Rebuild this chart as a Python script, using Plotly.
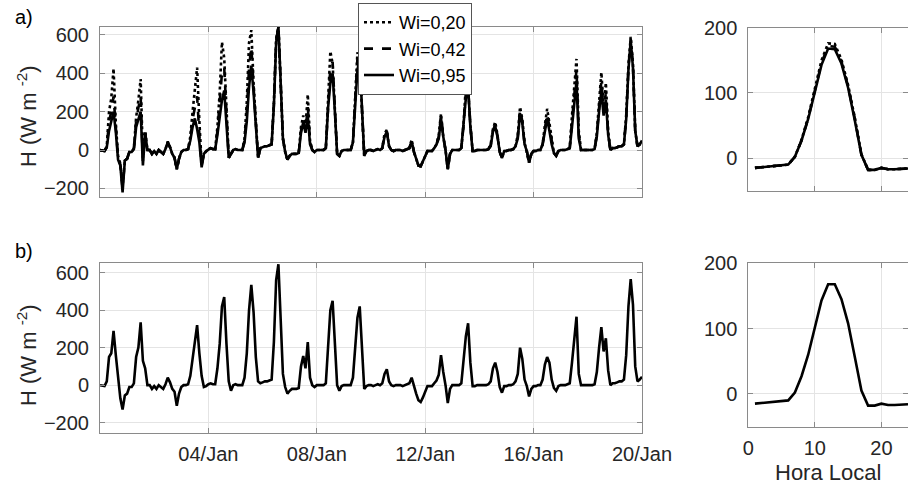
import pandas as pd
import plotly.graph_objects as go

# ---------------- data (2-hourly samples, 00h..22h per day, 31/Dec .. 19/Jan, plus final point) ----
h_wi020 = [
    0, -3, -5, 20, 200, 270, 425, 140, -30, -70, -190, -55,
    -45, -10, -10, 10, 170, 260, 370, -40, 100, 0, 0, -20,
    -5, -20, 0, -10, -20, 5, 45, 15, -20, -40, -100, -45,
    -10, 0, 0, 5, 70, 200, 330, 430, 150, -70, -20, -5,
    5, 10, 5, 5, 120, 300, 563, 480, 200, -40, -20, 0,
    5, 0, 0, 0, 60, 250, 560, 625, 350, 120, -40, 10,
    15, 20, 20, 25, 30, 250, 580, 648, 320, 60, -10, -50,
    -30, -20, -20, -20, -15, 120, 180, 120, 290, 50, 0, -10,
    0, 0, 0, 0, 10, 260, 515, 450, 230, -20, -30, -5,
    0, 0, 0, 0, 40, 250, 510, 450, 220, -30, -5, 0,
    0, -5, 0, 5, 0, 10, 85, 105, 20, 0, -5, 0,
    0, 0, -5, 0, 5, 10, 55, -10, -45, -80, -85, -60,
    -30, -5, -5, -5, 10, 30, 80, 190, 70, 0, -100, -20,
    0, 0, 0, 0, 10, 140, 333, 320, 130, -5, -5, 0,
    0, 0, 0, 0, 5, 30, 110, 147, 80, -10, -40, -5,
    -5, 0, 0, 5, 20, 80, 225, 160, 40, -5, -65, -20,
    -5, -5, 0, 0, 30, 130, 215, 140, 60, -15, -30, -5,
    0, 0, 0, 5, 10, 180, 350, 475, 100, 0, 0, 0,
    0, 0, 0, 5, 90, 250, 405, 220, 350, 100, 0, 10,
    10, 15, 20, 20, 30, 180, 440, 590, 450, 100, 20, 30,
    50]

h_wi042 = [
    0, -3, -5, 15, 150, 200, 280, 120, -40, -75, -200, -55,
    -45, -10, -10, 5, 150, 220, 280, -60, 90, 0, 0, -20,
    -5, -20, 0, -10, -20, 5, 40, 15, -20, -40, -100, -45,
    -10, 0, 0, 5, 60, 160, 230, 280, 80, -80, -20, -5,
    5, 10, 5, 5, 100, 250, 400, 430, 180, -40, -20, 0,
    5, 0, 0, 0, 50, 200, 430, 540, 330, 110, -40, 10,
    15, 20, 20, 25, 30, 240, 570, 645, 310, 60, -10, -50,
    -30, -20, -20, -20, -15, 100, 160, 100, 230, 40, 0, -10,
    0, 0, 0, 0, 10, 240, 430, 460, 220, -20, -30, -5,
    0, 0, 0, 0, 40, 230, 480, 460, 210, -30, -5, 0,
    0, -5, 0, 5, 0, 10, 80, 100, 20, 0, -5, 0,
    0, 0, -5, 0, 5, 10, 50, -10, -45, -80, -85, -60,
    -30, -5, -5, -5, 10, 30, 70, 180, 70, 0, -100, -20,
    0, 0, 0, 0, 10, 130, 300, 330, 130, -5, -5, 0,
    0, 0, 0, 0, 5, 25, 100, 135, 75, -10, -40, -5,
    -5, 0, 0, 5, 20, 70, 210, 150, 30, -5, -65, -20,
    -5, -5, 0, 0, 30, 120, 190, 120, 50, -15, -30, -5,
    0, 0, 0, 5, 10, 150, 300, 420, 80, 0, 0, 0,
    0, 0, 0, 5, 80, 220, 360, 200, 300, 90, 0, 10,
    10, 15, 20, 20, 30, 170, 430, 580, 440, 100, 20, 30,
    50]

h_wi095 = [
    0, -3, -5, 15, 100, 150, 200, 95, -50, -80, -220, -55,
    -45, -10, -10, 5, 120, 160, 200, -80, 90, 0, 0, -20,
    -5, -20, 0, -10, -20, 5, 40, 15, -20, -40, -100, -45,
    -10, 0, 0, 5, 50, 120, 165, 110, 40, -90, -20, -5,
    5, 10, 5, 5, 80, 180, 260, 310, 150, -40, -20, 0,
    5, 0, 0, 0, 40, 150, 330, 440, 300, 100, -40, 10,
    15, 20, 20, 25, 30, 230, 560, 645, 300, 60, -10, -50,
    -30, -20, -20, -20, -15, 90, 145, 90, 180, 30, 0, -10,
    0, 0, 0, 0, 10, 220, 350, 400, 200, -20, -30, -5,
    0, 0, 0, 0, 40, 220, 420, 470, 200, -30, -5, 0,
    0, -5, 0, 5, 0, 10, 70, 95, 20, 0, -5, 0,
    0, 0, -5, 0, 5, 10, 45, -10, -45, -80, -85, -60,
    -30, -5, -5, -5, 10, 30, 60, 165, 70, 0, -100, -20,
    0, 0, 0, 0, 10, 130, 270, 330, 120, -5, -5, 0,
    0, 0, 0, 0, 5, 20, 95, 125, 70, -10, -40, -5,
    -5, 0, 0, 5, 20, 60, 190, 140, 30, -5, -65, -20,
    -5, -5, 0, 0, 30, 110, 165, 100, 30, -15, -30, -5,
    0, 0, 0, 5, 10, 120, 250, 360, 60, 0, 0, 0,
    0, 0, 0, 5, 70, 200, 310, 180, 260, 80, 0, 10,
    10, 15, 20, 20, 30, 160, 420, 570, 430, 100, 20, 30,
    50]

h_b = [
    0, -3, -5, 20, 150, 170, 290, 160, 30, -70, -130, -55,
    -45, -10, -10, 10, 150, 200, 335, 130, 90, 0, 0, -20,
    -5, -20, 0, -10, -20, 5, 40, 15, -20, -35, -110, -45,
    -10, 0, 0, 5, 50, 140, 225, 320, 170, 50, -10, -5,
    5, 10, 5, 5, 90, 220, 420, 470, 220, 20, -30, 0,
    5, 0, 0, 0, 40, 170, 400, 535, 390, 150, 20, 10,
    15, 20, 20, 25, 30, 230, 560, 645, 300, 60, -10, -45,
    -30, -20, -20, -20, -15, 100, 155, 90, 230, 40, 0, -10,
    0, 0, 0, 0, 10, 240, 400, 450, 220, 0, -30, -5,
    0, 0, 0, 0, 40, 200, 360, 420, 200, -20, -5, 0,
    0, -5, 0, 5, 0, 10, 60, 85, 20, 0, -5, 0,
    0, 0, -5, 0, 5, 10, 40, -10, -45, -80, -90, -65,
    -30, -5, -5, -5, 10, 25, 55, 160, 70, 0, -95, -20,
    0, 0, 0, 0, 10, 120, 260, 330, 120, -5, -5, 0,
    0, 0, 0, 0, 5, 20, 90, 120, 70, -10, -40, -5,
    -5, 0, 0, 5, 20, 60, 200, 140, 30, -5, -60, -20,
    -5, -5, 0, 0, 30, 110, 150, 120, 30, -15, -30, -5,
    0, 0, 0, 5, 10, 120, 250, 365, 60, 0, 0, 0,
    0, 0, 0, 5, 70, 200, 310, 180, 250, 80, 0, 10,
    10, 15, 20, 20, 30, 160, 420, 565, 430, 100, 20, 30,
    45]

hora = list(range(1, 25))
d_wi020 = [-15, -14, -12, -11, -11, -10, 2, 28, 63, 105, 150, 176, 175, 151, 112, 62, 6, -18, -18, -15, -17, -17, -16, -16]
d_wi042 = [-15, -14, -12, -11, -11, -10, 2, 27, 61, 102, 146, 172, 171, 148, 110, 61, 5, -18, -18, -15, -17, -17, -16, -16]
d_wi095 = [-15, -14, -12, -11, -11, -10, 2, 27, 60, 100, 143, 168, 167, 145, 108, 58, 5, -18, -18, -15, -17, -17, -16, -16]
d_b = [-15, -14, -12, -11, -11, -10, 2, 27, 60, 100, 143, 168, 168, 145, 108, 57, 5, -18, -18, -15, -17, -17, -16, -16]

series_names = ["Wi=0,20", "Wi=0,42", "Wi=0,95"]
date_ticks = ["2017-01-04", "2017-01-08", "2017-01-12", "2017-01-16", "2017-01-20"]

times = pd.date_range("2016-12-31", periods=len(h_b), freq="2h")

# ---------------- figure ----------------
W, H = 908, 486
FONT = "Liberation Sans, Arial, Helvetica, sans-serif"
TXT = "#262626"
AX = "#8a8a8a"
GRID = "#e4e4e4"
LW = 2.6

fig = go.Figure()
dashes = ["dot", "dash", "solid"]
for name, ys, dy, ds in zip(series_names, [h_wi020, h_wi042, h_wi095],
                            [d_wi020, d_wi042, d_wi095], dashes):
    fig.add_trace(go.Scatter(x=times, y=ys, mode="lines", name=name,
                             line=dict(color="black", width=LW, dash=ds),
                             xaxis="x", yaxis="y", showlegend=True))
    fig.add_trace(go.Scatter(x=hora, y=dy, mode="lines", name=name,
                             line=dict(color="black", width=LW, dash=ds),
                             xaxis="x2", yaxis="y2", showlegend=False))
fig.add_trace(go.Scatter(x=times, y=h_b, mode="lines", line=dict(color="black", width=LW),
                         xaxis="x3", yaxis="y3", showlegend=False))
fig.add_trace(go.Scatter(x=hora, y=d_b, mode="lines", line=dict(color="black", width=LW),
                         xaxis="x4", yaxis="y4", showlegend=False))


def px_x(a, b):
    return [a / W, min(b / W, 1.0)]


def px_y(top, bot):
    return [1 - bot / H, 1 - top / H]


common = dict(showline=True, linecolor=AX, linewidth=1, mirror="ticks",
              ticks="inside", ticklen=5, tickcolor=AX, showgrid=True,
              gridcolor=GRID, gridwidth=1, zeroline=False, automargin=False,
              tickfont=dict(family=FONT, size=20, color=TXT))

x_range = ["2016-12-31 00:00", "2017-01-20 00:00"]
fig.update_layout(
    xaxis=dict(common, domain=px_x(100, 642), range=x_range, type="date",
               tickvals=date_ticks, showticklabels=False, anchor="y"),
    yaxis=dict(common, domain=px_y(26.7, 196.7), range=[-243, 643],
               tickvals=[-200, 0, 200, 400, 600], anchor="x", ticklabelstandoff=6),
    xaxis2=dict(common, domain=px_x(748.3, 908), range=[0, 24],
                tickvals=[0, 10, 20], showticklabels=False, anchor="y2"),
    yaxis2=dict(common, domain=px_y(27.7, 190.7), range=[-50, 200],
                tickvals=[0, 100, 200], anchor="x2", ticklabelstandoff=6),
    xaxis3=dict(common, domain=px_x(100, 642), range=x_range, type="date",
                tickvals=date_ticks, tickformat="%d/%b", anchor="y3", ticklabelstandoff=3),
    yaxis3=dict(common, domain=px_y(262.7, 433), range=[-255, 653],
                tickvals=[-200, 0, 200, 400, 600], anchor="x3", ticklabelstandoff=6),
    xaxis4=dict(common, domain=px_x(748.3, 908), range=[0, 24],
                tickvals=[0, 10, 20], anchor="y4", ticklabelstandoff=3),
    yaxis4=dict(common, domain=px_y(263.3, 426.5), range=[-50, 200],
                tickvals=[0, 100, 200], anchor="x4", ticklabelstandoff=6),
)


def note(text, xc, yc, size, color=TXT, angle=0):
    return dict(text=text, x=xc / W, y=1 - yc / H, xref="paper", yref="paper",
                xanchor="center", yanchor="middle", showarrow=False, textangle=angle,
                font=dict(family=FONT, size=size, color=color))


ann = [
    note("a)", 24, 17.5, 20, "black"),
    note("b)", 24, 251, 20, "black"),
    note("H (W m <sup>-2</sup>)", 27, 116, 22, TXT, -90),
    note("H (W m <sup>-2</sup>)", 27, 355, 22, TXT, -90),
    note("Hora Local", 828, 472, 22, TXT),
]

fig.update_layout(
    width=W, height=H, margin=dict(l=0, r=0, t=0, b=0, autoexpand=False),
    paper_bgcolor="white", plot_bgcolor="white",
    annotations=ann,
    legend=dict(x=358 / W, y=1 - 3 / H, xanchor="left", yanchor="top",
                bgcolor="white", bordercolor="#555555", borderwidth=1,
                font=dict(family=FONT, size=18, color="black"),
                itemwidth=30, tracegroupgap=0),
)

fig.write_html("out.html")
